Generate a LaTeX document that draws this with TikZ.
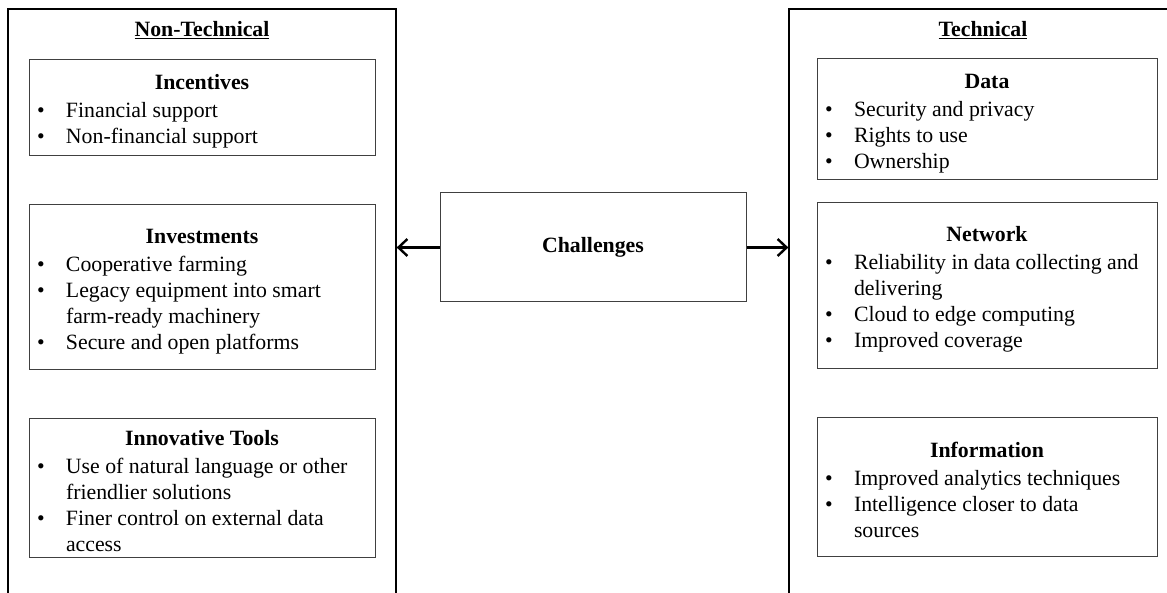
\documentclass[tikz,border=0pt]{standalone}
\usepackage{fontspec}
\setmainfont{Liberation Serif}
\usetikzlibrary{arrows.meta}
\newcommand\bitem[1]{\par\noindent\hangindent=37pt\hangafter=1\hbox to 37pt{\hskip 8pt\textbullet\hfil}#1\par}
\newcommand\btitle[1]{\raggedright\spaceskip 0pt\relax\xspaceskip 0pt\relax\par\vspace*{-4pt}{\centering\bfseries #1\par}\vspace{2pt}}
\newcommand\bend{\vspace*{12pt}}
\newcommand\boxfont{\fontsize{21.8}{26}\selectfont}
\tikzset{
  txt/.style={font=\boxfont},
  outerbox/.style={draw=black, line width=1.3pt, rectangle, inner sep=0pt},
  inbox/.style={draw=black!75, line width=1pt, rectangle, inner xsep=0pt, inner ysep=0pt, txt, align=left},
  arr/.style={line width=2.6pt, -{Straight Barb[length=9pt,width=17pt,line width=2.4pt]}},
}
\begin{document}
\begin{tikzpicture}[x=1pt,y=-1pt]
\useasboundingbox (0,0) rectangle (1167,593);
\clip (0,0) rectangle (1167,593);
\fill[white] (0,0) rectangle (1167,593);
% outer boxes (cut off by picture edge)
\node[outerbox, minimum width=388pt, minimum height=640pt] (nt) at (202,329) {};
\node[outerbox, minimum width=420pt, minimum height=640pt] (te) at (999,329) {};
\node[txt] (ntt) at (202,30) {\underline{\textbf{Non-Technical}}};
\node[txt] (tet) at (983,30) {\underline{\textbf{Technical}}};
% left column
\node[inbox, text width=346pt, minimum height=96pt] (inc) at (202,108)
  {\btitle{Incentives}\bitem{Financial support}\bitem{Non-financial support}\bend};
\node[inbox, text width=346pt, minimum height=165pt] (inv) at (202,287.5)
  {\btitle{Investments}\bitem{Cooperative farming}\bitem{Legacy equipment into smart\newline farm-ready machinery}\bitem{Secure and open platforms}\bend};
\node[inbox, text width=346pt, minimum height=139pt] (inn) at (202,487.5)
  {\btitle{Innovative Tools}\bitem{Use of natural language or other\newline friendlier solutions}\bitem{Finer control on external data\newline access}\bend};
% right column
\node[inbox, text width=340pt, minimum height=121pt] (dat) at (987,119.5)
  {\btitle{Data}\bitem{Security and privacy}\bitem{Rights to use}\bitem{Ownership}\bend};
\node[inbox, text width=340pt, minimum height=166pt] (net) at (987,286)
  {\btitle{Network}\bitem{Reliability in data collecting and\newline delivering}\bitem{Cloud to edge computing}\bitem{Improved coverage}\bend};
\node[inbox, text width=340pt, minimum height=139pt] (inf) at (987,486.5)
  {\btitle{Information}\bitem{Improved analytics techniques}\bitem{Intelligence closer to data\newline sources}\bend};
% center
\node[inbox, minimum width=306pt, minimum height=109pt, font=\boxfont\bfseries] (ch) at (593,247.5) {Challenges};
\draw[arr] (ch.west) -- (ch.west -| nt.east);
\draw[arr] (ch.east) -- (ch.east -| te.west);
\end{tikzpicture}
\end{document}
